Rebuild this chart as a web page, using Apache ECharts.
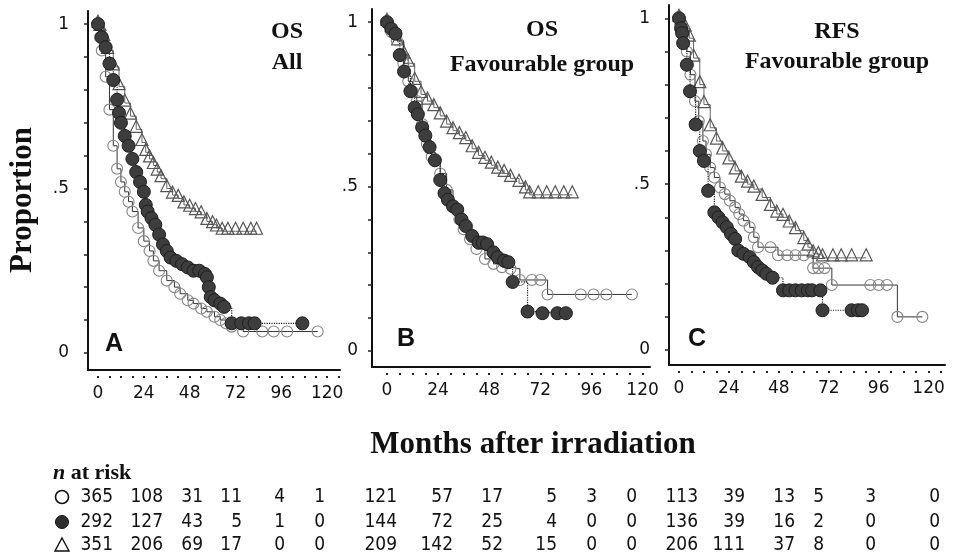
<!DOCTYPE html>
<html><head><meta charset="utf-8">
<script src="https://cdn.jsdelivr.net/npm/echarts@6/dist/echarts.min.js"></script>
<style>html,body{margin:0;padding:0;background:#fff}#c{width:953px;height:556px}</style>
</head><body><div id="c"></div>
<script>
// ---------- tick labels ----------
const xTickLabels = [0, 24, 48, 72, 96, 120];
const xMinorTicks = [0, 6, 12, 18, 24, 30, 36, 42, 48, 54, 60, 66, 72, 78, 84, 90, 96, 102, 108, 114, 120, 126];
const yTickLabels = [0, 0.5, 1];
const yTicks = [0, 0.1, 0.2, 0.3, 0.4, 0.5, 0.6, 0.7, 0.8, 0.9, 1];

// ---------- panel titles ----------
const panelLetters = ['A', 'B', 'C'];
const panelTitle1 = ['OS', 'OS', 'RFS'];
const panelTitle2 = ['All', 'Favourable group', 'Favourable group'];

// ---------- survival curves [month, proportion] ----------
// Panel A – OS, all patients
const A_open = [[0,1],[1,0.96],[2,0.92],[4,0.84],[6,0.74],[8,0.63],[10,0.56],[12,0.52],[14,0.49],[16,0.46],[18,0.43],[21,0.38],[24,0.34],[27,0.31],[29,0.28],[32,0.25],[36,0.22],[40,0.2],[43,0.18],[47,0.16],[50,0.15],[54,0.135],[57,0.125],[61,0.11],[64,0.1],[67,0.09],[70,0.08],[76,0.065],[86,0.065],[92,0.065],[99,0.065],[115,0.065]];
const A_filled = [[0,1],[2,0.96],[4,0.93],[6,0.88],[8,0.83],[10,0.77],[11,0.73],[12,0.7],[14,0.66],[16,0.63],[18,0.59],[20,0.55],[22,0.52],[24,0.49],[25,0.45],[26,0.43],[28,0.41],[30,0.39],[32,0.36],[34,0.33],[36,0.31],[38,0.29],[41,0.28],[44,0.27],[47,0.26],[50,0.25],[53,0.25],[56,0.24],[57,0.23],[58,0.2],[59,0.17],[61,0.16],[64,0.15],[66,0.14],[70,0.09],[75,0.09],[79,0.09],[82,0.09],[107,0.09]];
const A_tri = [[0,1],[1,0.99],[3,0.96],[5,0.92],[8,0.87],[11,0.81],[14,0.76],[17,0.72],[20,0.68],[23,0.64],[25,0.61],[27,0.59],[29,0.57],[31,0.55],[33,0.53],[36,0.5],[39,0.48],[42,0.47],[45,0.45],[48,0.44],[51,0.43],[54,0.42],[57,0.4],[60,0.39],[62,0.38],[65,0.37],[68,0.37],[72,0.37],[76,0.37],[80,0.37],[83,0.37]];
// Panel B – OS, favourable group
const B_open = [[0,1],[2,0.97],[4.6,0.945],[7.7,0.875],[10,0.82],[12,0.79],[14,0.76],[16.5,0.69],[18.7,0.63],[21,0.59],[25,0.54],[28,0.49],[31,0.44],[34,0.4],[36,0.37],[39,0.34],[42,0.31],[46,0.28],[50,0.265],[54,0.255],[58,0.25],[62.4,0.216],[68,0.216],[72,0.216],[75.4,0.172],[91,0.172],[97,0.172],[103,0.172],[115,0.172]];
const B_filled = [[0,1],[2,0.98],[4,0.965],[6,0.9],[8,0.85],[11,0.79],[13,0.74],[14.5,0.72],[16.5,0.68],[18,0.655],[20,0.62],[22.5,0.58],[25,0.52],[27,0.48],[28.6,0.46],[31,0.44],[33,0.43],[35,0.4],[37,0.38],[40,0.35],[43,0.33],[45,0.33],[47,0.325],[50,0.3],[52,0.285],[55,0.275],[57,0.27],[59,0.21],[66,0.12],[73,0.115],[80,0.115],[84,0.115]];
const B_tri = [[0,1],[2,0.98],[5,0.94],[8,0.9],[10,0.875],[13,0.82],[16,0.78],[19,0.76],[22,0.74],[25,0.715],[28,0.69],[31,0.67],[34,0.655],[37,0.64],[40,0.615],[43,0.595],[46,0.58],[49,0.565],[52,0.55],[55,0.54],[58,0.525],[62,0.51],[65,0.49],[67,0.475],[71,0.475],[75,0.475],[79,0.475],[83,0.475],[87,0.475]];
// Panel C – RFS, favourable group
const C_open = [[0,1],[1,0.98],[2,0.95],[3.8,0.9],[5.5,0.83],[7.7,0.75],[9.5,0.69],[11.5,0.63],[13,0.59],[15,0.55],[17,0.52],[19.7,0.49],[22,0.47],[24.5,0.45],[27,0.43],[29,0.41],[31,0.39],[34,0.37],[36,0.34],[38,0.31],[44,0.31],[47.6,0.286],[52,0.286],[56,0.286],[60,0.286],[64.5,0.247],[67,0.247],[70,0.247],[73.5,0.196],[92,0.196],[96,0.196],[100,0.196],[105,0.1],[117,0.1]];
const C_filled = [[0,1],[1,0.97],[1.5,0.955],[2,0.925],[3.8,0.86],[5.3,0.78],[8,0.68],[10,0.6],[12,0.57],[14,0.48],[17,0.415],[19,0.4],[21,0.385],[23,0.37],[25,0.35],[27,0.335],[28.5,0.3],[31,0.29],[34,0.28],[36,0.265],[38,0.25],[40,0.24],[42,0.23],[45,0.218],[50,0.18],[53,0.18],[56,0.18],[59,0.18],[62,0.18],[64,0.18],[68,0.18],[69,0.12],[83,0.12],[86,0.12],[88,0.12]];
const C_tri = [[0,1],[1,0.99],[3,0.97],[5,0.94],[7,0.88],[10,0.8],[12,0.74],[15,0.67],[18,0.63],[21,0.6],[24,0.57],[27,0.54],[30,0.515],[33,0.5],[36,0.485],[40,0.46],[44,0.43],[47,0.41],[50,0.4],[53,0.38],[56,0.36],[60,0.33],[62,0.31],[64.5,0.29],[67,0.285],[69,0.278],[74,0.278],[78,0.278],[83,0.278],[90,0.278]];

// ---------- n at risk ----------
const riskOpen   = [[365,108,31,11,4,1],[121,57,17,5,3,0],[113,39,13,5,3,0]];
const riskFilled = [[292,127,43,5,1,0],[144,72,25,4,0,0],[136,39,16,2,0,0]];
const riskTri    = [[351,206,69,17,0,0],[209,142,52,15,0,0],[206,111,37,8,0,0]];

// ---------- layout ----------
const grids = [
  {left: 88, top: 11, width: 252, height: 359},
  {left: 372, top: 9, width: 278, height: 358},
  {left: 669, top: 5, width: 276, height: 360}
];
const xRanges = [[-5.24, 126.7], [-7.04, 123.5], [-4.8, 127.9]];
const yRanges = [[-0.052, 1.04], [-0.0486, 1.04], [-0.045, 1.04]];
const yLabelMargin = [19, 14, 19];
const titleX = [287, 542, 837];
const title1Y = [32, 30, 32];
const title2Y = [63, 65, 62];
const letterPos = [[114, 344], [406, 339], [697, 339]];
const riskCols = [[113,163,203,242,285,325],[397,453,503,557,597,637],[698,745,795,824,876,940]];
const riskRowsY = [497, 522, 545];

const curves = [[A_tri, A_open, A_filled], [B_tri, B_open, B_filled], [C_tri, C_open, C_filled]];

const tickFont = '"DejaVu Sans", Verdana, sans-serif';
const serif = '"Liberation Serif", "Times New Roman", serif';
const narrow = '"Liberation Sans Narrow", "DejaVu Sans Condensed", "Arial Narrow", sans-serif';

const xAxis = [], yAxis = [], series = [];
grids.forEach((g, p) => {
  xAxis.push({
    type: 'value', gridIndex: p, min: xRanges[p][0], max: xRanges[p][1], position: 'bottom',
    axisLine: {show: true, onZero: false, lineStyle: {color: '#111', width: 2}},
    axisTick: {show: false},
    axisLabel: {customValues: xTickLabels, margin: 15, fontSize: 17, fontFamily: tickFont, color: '#111'},
    splitLine: {show: false}
  });
  xAxis.push({
    type: 'value', gridIndex: p, min: xRanges[p][0], max: xRanges[p][1], position: 'bottom', offset: 6,
    axisLine: {show: false, onZero: false},
    axisTick: {show: true, customValues: xMinorTicks, length: 2, lineStyle: {color: '#222', width: 2}},
    axisLabel: {show: false},
    splitLine: {show: false}
  });
  yAxis.push({
    type: 'value', gridIndex: p, min: yRanges[p][0], max: yRanges[p][1],
    axisLine: {show: true, onZero: false, lineStyle: {color: '#111', width: 2}},
    axisTick: {show: true, customValues: yTicks, length: 4, lineStyle: {color: '#222', width: 1.5}},
    axisLabel: {customValues: yTickLabels, margin: yLabelMargin[p], fontSize: 17, fontFamily: tickFont, color: '#111',
      padding: [12, 0, 0, 0],
      formatter: v => v === 1 ? '1' : (v === 0.5 ? '.5' : '0')},
    splitLine: {show: false}
  });
  const [tri, open, filled] = curves[p];
  series.push({
    type: 'line', xAxisIndex: 2 * p, yAxisIndex: p, data: tri, step: 'end', z: 2,
    symbol: 'triangle', symbolSize: 12, symbolOffset: [0, -3], showAllSymbol: true,
    itemStyle: {color: 'rgba(255,255,255,0)', borderColor: '#555', borderWidth: 1.2},
    lineStyle: {color: '#666', width: 1}
  });
  series.push({
    type: 'line', xAxisIndex: 2 * p, yAxisIndex: p, data: open, step: 'end', z: 3,
    symbol: 'circle', symbolSize: 11, showAllSymbol: true,
    itemStyle: {color: 'rgba(255,255,255,0)', borderColor: '#858585', borderWidth: 1.1},
    lineStyle: {color: '#333', width: 1}
  });
  series.push({
    type: 'line', xAxisIndex: 2 * p, yAxisIndex: p, data: filled, step: 'end', z: 4,
    symbol: 'circle', symbolSize: 13, showAllSymbol: true,
    itemStyle: {color: '#3d3d3d', borderColor: '#1e1e1e', borderWidth: 1},
    lineStyle: {color: '#222', width: 1.2, type: 'dotted'}
  });
});

const graphic = [];
const txt = (text, x, y, size, weight, family, align, extra) => Object.assign({
  type: 'text', x: x, y: y, silent: true,
  style: {text: text, fontSize: size, fontWeight: weight, fontFamily: family, fill: '#111',
          textAlign: align || 'center', textVerticalAlign: 'middle'}
}, extra || {});

for (let p = 0; p < 3; p++) {
  graphic.push(txt(panelTitle1[p], titleX[p], title1Y[p], 24, 'bold', serif));
  graphic.push(txt(panelTitle2[p], titleX[p], title2Y[p], 24, 'bold', serif));
  graphic.push(txt(panelLetters[p], letterPos[p][0], letterPos[p][1], 25, 'bold', '"Liberation Sans", Arial, sans-serif'));
}
graphic.push(txt('Proportion', 23, 200, 31, 'bold', serif, 'center', {rotation: Math.PI / 2}));
graphic.push(txt('Months after irradiation', 533, 445, 31, 'bold', serif));
graphic.push({
  type: 'text', x: 53, y: 473, silent: true,
  style: {text: '{i|n} at risk', fontSize: 22, fontWeight: 'bold', fontFamily: serif, fill: '#111',
          textAlign: 'left', textVerticalAlign: 'middle',
          rich: {i: {fontStyle: 'italic', fontWeight: 'bold', fontSize: 22, fontFamily: serif}}}
});
// legend glyphs of the at-risk table
graphic.push({type: 'circle', shape: {cx: 62, cy: riskRowsY[0], r: 6.5}, style: {fill: 'none', stroke: '#111', lineWidth: 1.6}, silent: true});
graphic.push({type: 'circle', shape: {cx: 62, cy: riskRowsY[1], r: 6.5}, style: {fill: '#2e2e2e', stroke: '#111', lineWidth: 1}, silent: true});
graphic.push({type: 'polygon', shape: {points: [[55, riskRowsY[2] + 6], [69, riskRowsY[2] + 6], [62, riskRowsY[2] - 7]]}, style: {fill: 'none', stroke: '#111', lineWidth: 1.4}, silent: true});

const riskRows = [riskOpen, riskFilled, riskTri];
riskRows.forEach((row, r) => {
  row.forEach((vals, p) => {
    vals.forEach((v, k) => {
      graphic.push(txt(String(v), riskCols[p][k], riskRowsY[r], 19, 'normal', narrow, 'right'));
    });
  });
});

const chart = echarts.init(document.getElementById('c'), null, {renderer: 'canvas'});
chart.setOption({
  animation: false,
  backgroundColor: '#fff',
  grid: grids,
  xAxis: xAxis,
  yAxis: yAxis,
  series: series,
  graphic: graphic
});
</script>
</body></html>
